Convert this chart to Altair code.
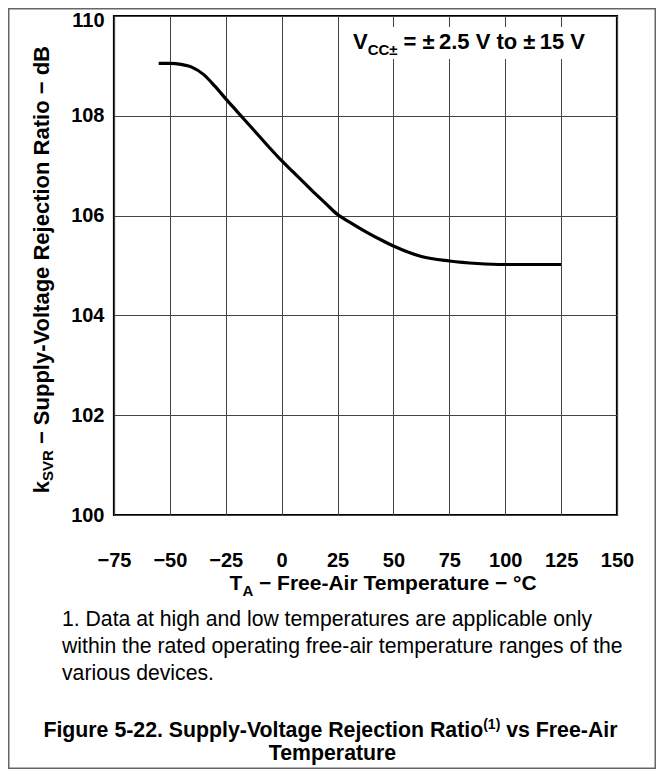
import altair as alt
import pandas as pd

# ---------------- data ----------------
temp_c = [-55, -50, -45, -40, -35, -30, -25, -20, -15, -10, -5, 0, 5, 10, 15,
          20, 25, 30, 37.5, 45, 50, 62.5, 75, 87.5, 100, 112.5, 125]
ksvr_db = [109.05, 109.05, 109.03, 108.97, 108.83, 108.60, 108.34, 108.09,
           107.84, 107.59, 107.34, 107.10, 106.88, 106.66, 106.44, 106.23,
           106.02, 105.88, 105.68, 105.50, 105.39, 105.18, 105.09, 105.04,
           105.02, 105.02, 105.02]
x_ticks = [-75, -50, -25, 0, 25, 50, 75, 100, 125, 150]
y_ticks = [100, 102, 104, 106, 108, 110]

annot_main = "V"
annot_sub = "CC\u00b1"
annot_rest = "= \u00b1\u20092.5 V to \u00b1\u200915 V"
xtitle_main = "T"
xtitle_sub = "A"
xtitle_rest = "\u2212 Free-Air Temperature \u2212 \u00b0C"
ytitle_main = "k"
ytitle_sub = "SVR"
ytitle_rest = "\u2212 Supply-Voltage Rejection Ratio \u2212 dB"
footnote_lines = [
    "1. Data at high and low temperatures are applicable only",
    "within the rated operating free-air temperature ranges of the",
    "various devices.",
]
caption_a = "Figure 5-22. Supply-Voltage Rejection Ratio"
caption_sup = "(1)"
caption_b = "vs Free-Air"
caption_line2 = "Temperature"

FONT = "Liberation Sans, Arial, Helvetica, sans-serif"
W, H = 503, 499

curve_df = pd.DataFrame({"T": temp_c, "dB": ksvr_db})

line = alt.Chart(curve_df).mark_line(
    color="black", strokeWidth=3.2, interpolate="monotone"
).encode(
    x=alt.X("T:Q",
            scale=alt.Scale(domain=[-75, 150], nice=False, zero=False),
            axis=alt.Axis(values=x_ticks, title=None, grid=True, domain=False,
                          ticks=False, tickSize=0, labelPadding=35,
                          labelFontSize=20, labelFontWeight="bold",
                          labelFont=FONT, labelColor="black",
                          labelFlush=False, labelOverlap=False,
                          gridColor="#444444", gridWidth=1)),
    y=alt.Y("dB:Q",
            scale=alt.Scale(domain=[100, 110], nice=False, zero=False),
            axis=alt.Axis(values=y_ticks, title=None, grid=True, domain=False,
                          ticks=False, tickSize=0, labelPadding=10,
                          labelOffset=alt.condition("datum.value == 110",
                                                    alt.value(4), alt.value(0)),
                          labelFontSize=20, labelFontWeight="bold",
                          labelFont=FONT, labelColor="black",
                          labelFlush=False, labelOverlap=False,
                          gridColor="#444444", gridWidth=1)),
)

one = pd.DataFrame({"k": [0]})


def txt(s, x, y, size, weight="bold", align="left", angle=0):
    return alt.Chart(pd.DataFrame({"s": [s]})).mark_text(
        font=FONT, fontSize=size, fontWeight=weight, align=align,
        baseline="alphabetic", angle=angle, color="black"
    ).encode(x=alt.value(x), y=alt.value(y), text="s:N")


white_box = alt.Chart(one).mark_rect(color="white").encode(
    x=alt.value(231), x2=alt.value(486), y=alt.value(11), y2=alt.value(43)
)

frame = alt.Chart(one).mark_rect(
    fillOpacity=0, stroke="#666666", strokeWidth=1.5
).encode(
    x=alt.value(-105.25), x2=alt.value(541.25),
    y=alt.value(-7.25), y2=alt.value(752.25)
)

texts = [
    # annotation
    txt(annot_main, 253.7, 33, 22, align="right"),
    txt(annot_sub, 253.7, 39, 15),
    txt(annot_rest, 289.5, 33, 22),
    # x title
    txt(xtitle_main, 128.4, 574, 21, align="right"),
    txt(xtitle_sub, 128.4, 580, 15),
    txt(xtitle_rest, 145.0, 574, 21),
    # y title (rotated)
    txt(ytitle_main, -65, 465, 22, align="right", angle=270),
    txt(ytitle_sub, -61, 465, 15, align="left", angle=270),
    txt(ytitle_rest, -65, 428.1, 22, align="left", angle=270),
    # footnote
    txt(footnote_lines[0], -52, 610, 21.2, weight="normal"),
    txt(footnote_lines[1], -52, 637, 21.2, weight="normal"),
    txt(footnote_lines[2], -52, 664, 21.2, weight="normal"),
    # caption
    txt(caption_a, 369.2, 721, 21.3, align="right"),
    txt(caption_sup, 369.2, 713, 14),
    txt(caption_b, 392.2, 721, 21.3),
    txt(caption_line2, 218.5, 744, 21.3, align="center"),
]

chart = alt.layer(line, white_box, *texts, frame).properties(
    width=W, height=H,
    padding={"left": 106, "top": 8, "right": 39, "bottom": 254},
    autosize=alt.AutoSizeParams(type="none"),
    background="white",
).configure_view(stroke="black", strokeWidth=2.2)

chart.save("out.html", embed_options={"renderer": "svg", "actions": False})
